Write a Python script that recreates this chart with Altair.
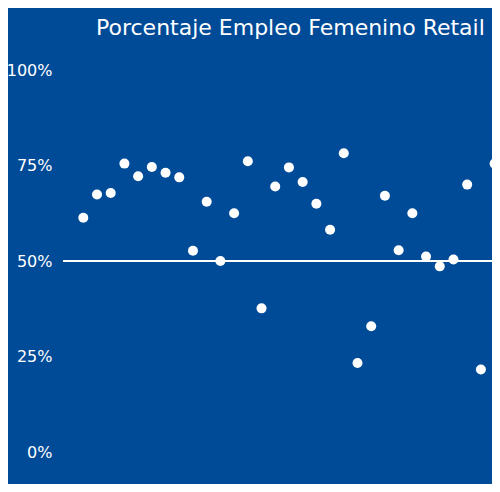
import altair as alt
import pandas as pd

periodo = list(range(1, 32))
porcentaje = [0.613, 0.674, 0.678, 0.755, 0.722, 0.746, 0.731, 0.719, 0.527, 0.655,
              0.500, 0.625, 0.761, 0.376, 0.695, 0.745, 0.707, 0.650, 0.582, 0.782,
              0.233, 0.329, 0.671, 0.528, 0.625, 0.512, 0.486, 0.504, 0.700, 0.216,
              0.755]
y_ticks = [0, 0.25, 0.5, 0.75, 1.0]
referencia = [0.5]

BG = "#004b98"
FONT = "DejaVu Sans"

df = pd.DataFrame({"periodo": periodo, "porcentaje": porcentaje})
ref = pd.DataFrame({"ref": referencia})

yscale = alt.Scale(domain=[0, 1], nice=False, zero=True)
xscale = alt.Scale(domain=[-0.48, 30.81], nice=False, zero=False)

rule = alt.Chart(ref).mark_rule(color="white", strokeWidth=2).encode(
    y=alt.Y("ref:Q", scale=yscale),
    x=alt.value(0),
    x2=alt.value("width"),
)

points = alt.Chart(df).mark_circle(color="white", opacity=1, size=100).encode(
    x=alt.X("periodo:Q", scale=xscale, axis=None),
    y=alt.Y(
        "porcentaje:Q",
        scale=yscale,
        axis=alt.Axis(
            values=y_ticks,
            format=".0%",
            grid=False,
            domain=False,
            ticks=False,
            labelPadding=11,
            labelColor="white",
            labelFont=FONT,
            labelFontSize=16,
            title=None,
        ),
    ),
)

chart = (
    alt.layer(rule, points)
    .properties(
        width=429,
        height=382,
        background=BG,
        padding={"left": 55, "top": 62, "right": 0, "bottom": 32},
        autosize=alt.AutoSizeParams(type="none"),
        title=alt.TitleParams(
            "Porcentaje Empleo Femenino Retail",
            color="white",
            font=FONT,
            fontSize=22,
            fontWeight="normal",
            anchor="start",
            frame="group",
            dx=33,
            offset=22,
        ),
    )
    .configure_view(stroke=None, fill=BG)
)

chart.save("out.html", embed_options={"renderer": "svg", "actions": False})
